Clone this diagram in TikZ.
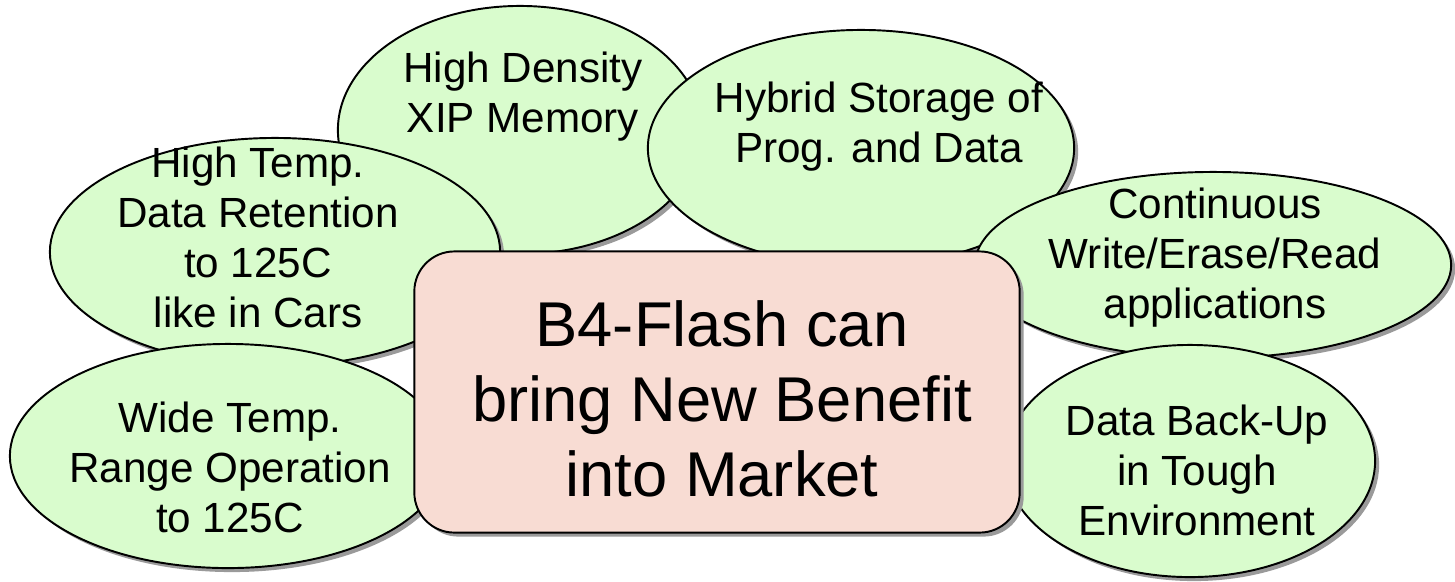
\documentclass[tikz,border=0pt]{standalone}
\usepackage{fontspec}
\setmainfont{Liberation Sans}
\usepackage{tikz}
\usetikzlibrary{shapes.geometric, shadows}
\definecolor{bubblegreen}{HTML}{D9FCCD}
\definecolor{boxpink}{HTML}{F8DCD3}
\definecolor{shadowgray}{HTML}{9A9A9A}

\begin{document}
\begin{tikzpicture}[
    x=0.01cm, y=-0.01cm,
    bubble/.style={ellipse, draw=black, fill=bubblegreen, line width=0.55pt, inner sep=0pt, drop shadow={shadow xshift=0.04cm, shadow yshift=-0.04cm, fill=shadowgray, opacity=1}},
    bubbletext/.style={align=center, inner sep=0pt, font=\fontsize{12}{14.2}\selectfont},
    benefit/.style={rectangle, draw=black, fill=boxpink, line width=0.55pt, rounded corners=0.4cm, minimum width=6.05cm, minimum height=2.81cm, drop shadow={shadow xshift=0.04cm, shadow yshift=-0.04cm, fill=shadowgray, opacity=1}},
    benefittext/.style={align=center, inner sep=0pt, font=\fontsize{18}{21.3}\selectfont}
]
\useasboundingbox (0,0) rectangle (1455,581);

\node[bubble, minimum width=3.64cm, minimum height=2.48cm] (xip) at (520,130) {};
\node[bubbletext] (xiptext) at (523,97) {High Density\\XIP Memory};

\node[bubble, minimum width=4.26cm, minimum height=2.36cm] (hybrid) at (861,148) {};
\node[bubbletext] (hybridtext) at (879,127) {Hybrid Storage of\\Prog. and Data};

\node[bubble, minimum width=4.5cm, minimum height=2.28cm] (retention) at (275,252) {};
\node[bubbletext] (retentiontext) at (258,237) {High Temp.\\Data Retention\\to 125C\\like in Cars};

\node[bubble, minimum width=4.76cm, minimum height=1.86cm] (continuous) at (1213,265) {};
\node[bubbletext] (continuoustext) at (1215,258) {Continuous\\Write/Erase/Read\\applications};

\node[bubble, minimum width=4.36cm, minimum height=2.24cm] (widetemp) at (228,456) {};
\node[bubbletext] (widetemptext) at (230,467) {Wide Temp.\\Range Operation\\to 125C};

\node[bubble, minimum width=3.7cm, minimum height=2.32cm] (backup) at (1190,461) {};
\node[bubbletext] (backuptext) at (1197,470) {Data Back-Up\\in Tough\\Environment};

\node[benefit] (flash) at (717,392) {};
\node[benefittext] (flashtext) at (722,399) {B4-Flash can\\bring New Benefit\\into Market};
\end{tikzpicture}
\end{document}
